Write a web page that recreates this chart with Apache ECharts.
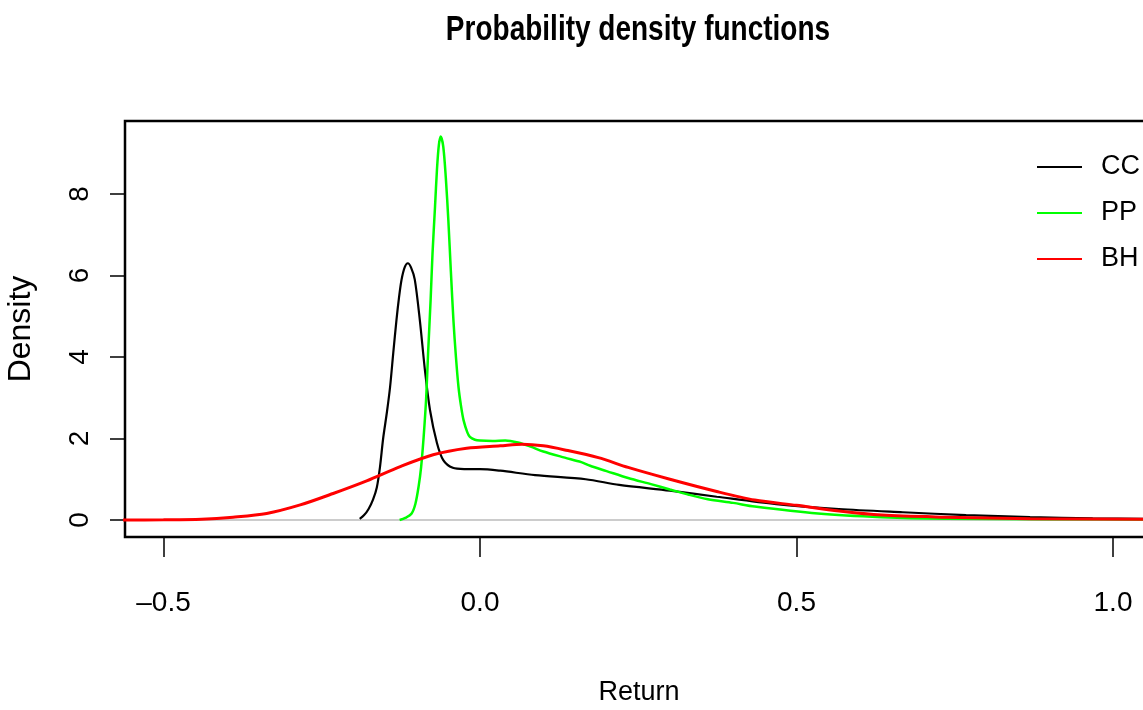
<!DOCTYPE html>
<html>
<head>
<meta charset="utf-8">
<title>Probability density functions</title>
<script src="https://cdn.jsdelivr.net/npm/echarts@6/dist/echarts.min.js"></script>
<style>
  html, body { margin: 0; padding: 0; background: #fff; }
  #chart { width: 1143px; height: 710px; }
</style>
</head>
<body>
<div id="chart"></div>
<script>
// density estimates, as [return, density]
var ccDensity = [
  [-0.190, 0.03], [-0.183, 0.12], [-0.176, 0.27], [-0.169, 0.50], [-0.163, 0.80],
  [-0.158, 1.30], [-0.153, 2.00], [-0.147, 2.65], [-0.142, 3.27], [-0.137, 4.10],
  [-0.132, 4.90], [-0.128, 5.45], [-0.124, 5.89], [-0.119, 6.20], [-0.114, 6.30],
  [-0.109, 6.20], [-0.103, 5.90], [-0.095, 4.90], [-0.087, 3.68], [-0.079, 2.70],
  [-0.068, 1.89], [-0.058, 1.47], [-0.043, 1.28], [-0.025, 1.25], [0.000, 1.25],
  [0.032, 1.21], [0.087, 1.10], [0.167, 1.00], [0.220, 0.86], [0.300, 0.72],
  [0.374, 0.57], [0.468, 0.39], [0.567, 0.27], [0.668, 0.19], [0.768, 0.12],
  [0.869, 0.07], [0.968, 0.04], [1.047, 0.03], [1.100, 0.02]
];
var ppDensity = [
  [-0.127, 0.00], [-0.118, 0.05], [-0.108, 0.16], [-0.102, 0.40], [-0.097, 0.82],
  [-0.093, 1.30], [-0.089, 2.04], [-0.085, 3.00], [-0.082, 4.09], [-0.078, 5.40],
  [-0.075, 6.54], [-0.071, 7.70], [-0.068, 8.59], [-0.065, 9.20], [-0.062, 9.41],
  [-0.058, 9.16], [-0.054, 8.40], [-0.050, 7.36], [-0.046, 6.10], [-0.042, 4.91],
  [-0.038, 4.00], [-0.034, 3.27], [-0.030, 2.80], [-0.026, 2.45], [-0.020, 2.15],
  [-0.016, 2.04], [-0.008, 1.97], [0.000, 1.95], [0.020, 1.94], [0.040, 1.95],
  [0.060, 1.90], [0.080, 1.80], [0.100, 1.68], [0.134, 1.53], [0.160, 1.42],
  [0.174, 1.33], [0.200, 1.20], [0.234, 1.03], [0.270, 0.88], [0.300, 0.75],
  [0.330, 0.62], [0.360, 0.51], [0.400, 0.42], [0.434, 0.33], [0.534, 0.16],
  [0.635, 0.07], [0.735, 0.03], [0.900, 0.02], [1.100, 0.01]
];
var bhDensity = [
  [-0.600, 0.001], [-0.560, 0.002], [-0.500, 0.005], [-0.440, 0.02], [-0.390, 0.07],
  [-0.337, 0.16], [-0.284, 0.37], [-0.232, 0.65], [-0.179, 0.96], [-0.126, 1.31],
  [-0.074, 1.60], [-0.021, 1.76], [0.032, 1.82], [0.067, 1.86], [0.100, 1.82],
  [0.134, 1.72], [0.187, 1.53], [0.234, 1.29], [0.300, 1.00], [0.374, 0.70],
  [0.434, 0.49], [0.500, 0.36], [0.567, 0.22], [0.635, 0.12], [0.735, 0.07],
  [0.869, 0.03], [1.047, 0.02], [1.100, 0.02]
];
var seriesNames = ['CC', 'PP', 'BH'];
var seriesColors = ['#000000', '#00ff00', '#ff0000'];
var lineWidths = [2.2, 2.5, 3];
var xTicks = [-0.5, 0, 0.5, 1];
var yTicks = [0, 2, 4, 6, 8];
var zeroLine = 0;

var sans = '"Liberation Sans", Arial, sans-serif';

var myChart = echarts.init(document.getElementById('chart'));

function densitySeries(i, data) {
  return {
    name: seriesNames[i],
    type: 'line',
    data: data,
    symbol: 'none',
    smooth: 0.3,
    z: 3,
    color: seriesColors[i],
    lineStyle: { color: seriesColors[i], width: lineWidths[i] }
  };
}

var option = {
  animation: false,
  backgroundColor: '#fff',
  // title drawn as graphic text so it can be squeezed like the narrow R font
  graphic: [
    {
      type: 'text',
      x: 638,
      y: 13,
      scaleX: 0.8,
      style: {
        text: 'Probability density functions',
        font: 'bold 35px "Liberation Sans", Arial, sans-serif',
        fill: '#000',
        textAlign: 'center',
        textVerticalAlign: 'top'
      }
    }
  ],
  legend: {
    data: seriesNames,
    orient: 'vertical',
    left: 1037,
    top: 152,
    padding: 0,
    itemWidth: 45,
    itemHeight: 2,
    itemGap: 16,
    icon: 'rect',
    textStyle: { fontFamily: sans, fontSize: 27, color: '#000', lineHeight: 30, padding: [0, 0, 0, 14] }
  },
  grid: {
    left: 125,
    top: 121,
    right: -10,
    bottom: 173,
    outerBoundsMode: 'none',
    containLabel: false,
    show: true,
    borderColor: '#000',
    borderWidth: 2.5,
    backgroundColor: 'transparent'
  },
  xAxis: {
    type: 'value',
    min: -0.5608,
    max: 1.0632,
    name: 'Return',
    nameLocation: 'middle',
    nameGap: 142,
    nameTextStyle: { fontFamily: sans, fontSize: 27, color: '#000' },
    axisLine: { show: false, onZero: false },
    splitLine: { show: false },
    axisTick: { show: true, length: 20, lineStyle: { color: '#000', width: 1.5 }, customValues: xTicks },
    axisLabel: {
      margin: 52,
      fontFamily: sans,
      fontSize: 28,
      color: '#000',
      customValues: xTicks,
      formatter: function (v) { return (v < 0 ? '\u2013' : '') + Math.abs(v).toFixed(1); }
    }
  },
  yAxis: {
    type: 'value',
    min: -0.4172,
    max: 9.7914,
    name: 'Density',
    nameLocation: 'middle',
    nameRotate: 90,
    nameGap: 88,
    nameTextStyle: { fontFamily: sans, fontSize: 32, color: '#000' },
    axisLine: { show: false, onZero: false },
    splitLine: { show: false },
    axisTick: { show: true, length: 15, lineStyle: { color: '#000', width: 1.5 }, customValues: yTicks },
    axisLabel: {
      rotate: 90,
      margin: 31,
      fontFamily: sans,
      fontSize: 28,
      color: '#000',
      customValues: yTicks
    }
  },
  series: [
    {
      name: 'zero',
      type: 'line',
      data: [[-0.7, zeroLine], [1.2, zeroLine]],
      symbol: 'none',
      silent: true,
      z: 1,
      lineStyle: { color: '#cccccc', width: 2 }
    },
    densitySeries(0, ccDensity),
    densitySeries(1, ppDensity),
    densitySeries(2, bhDensity)
  ]
};

myChart.setOption(option);
</script>
</body>
</html>
